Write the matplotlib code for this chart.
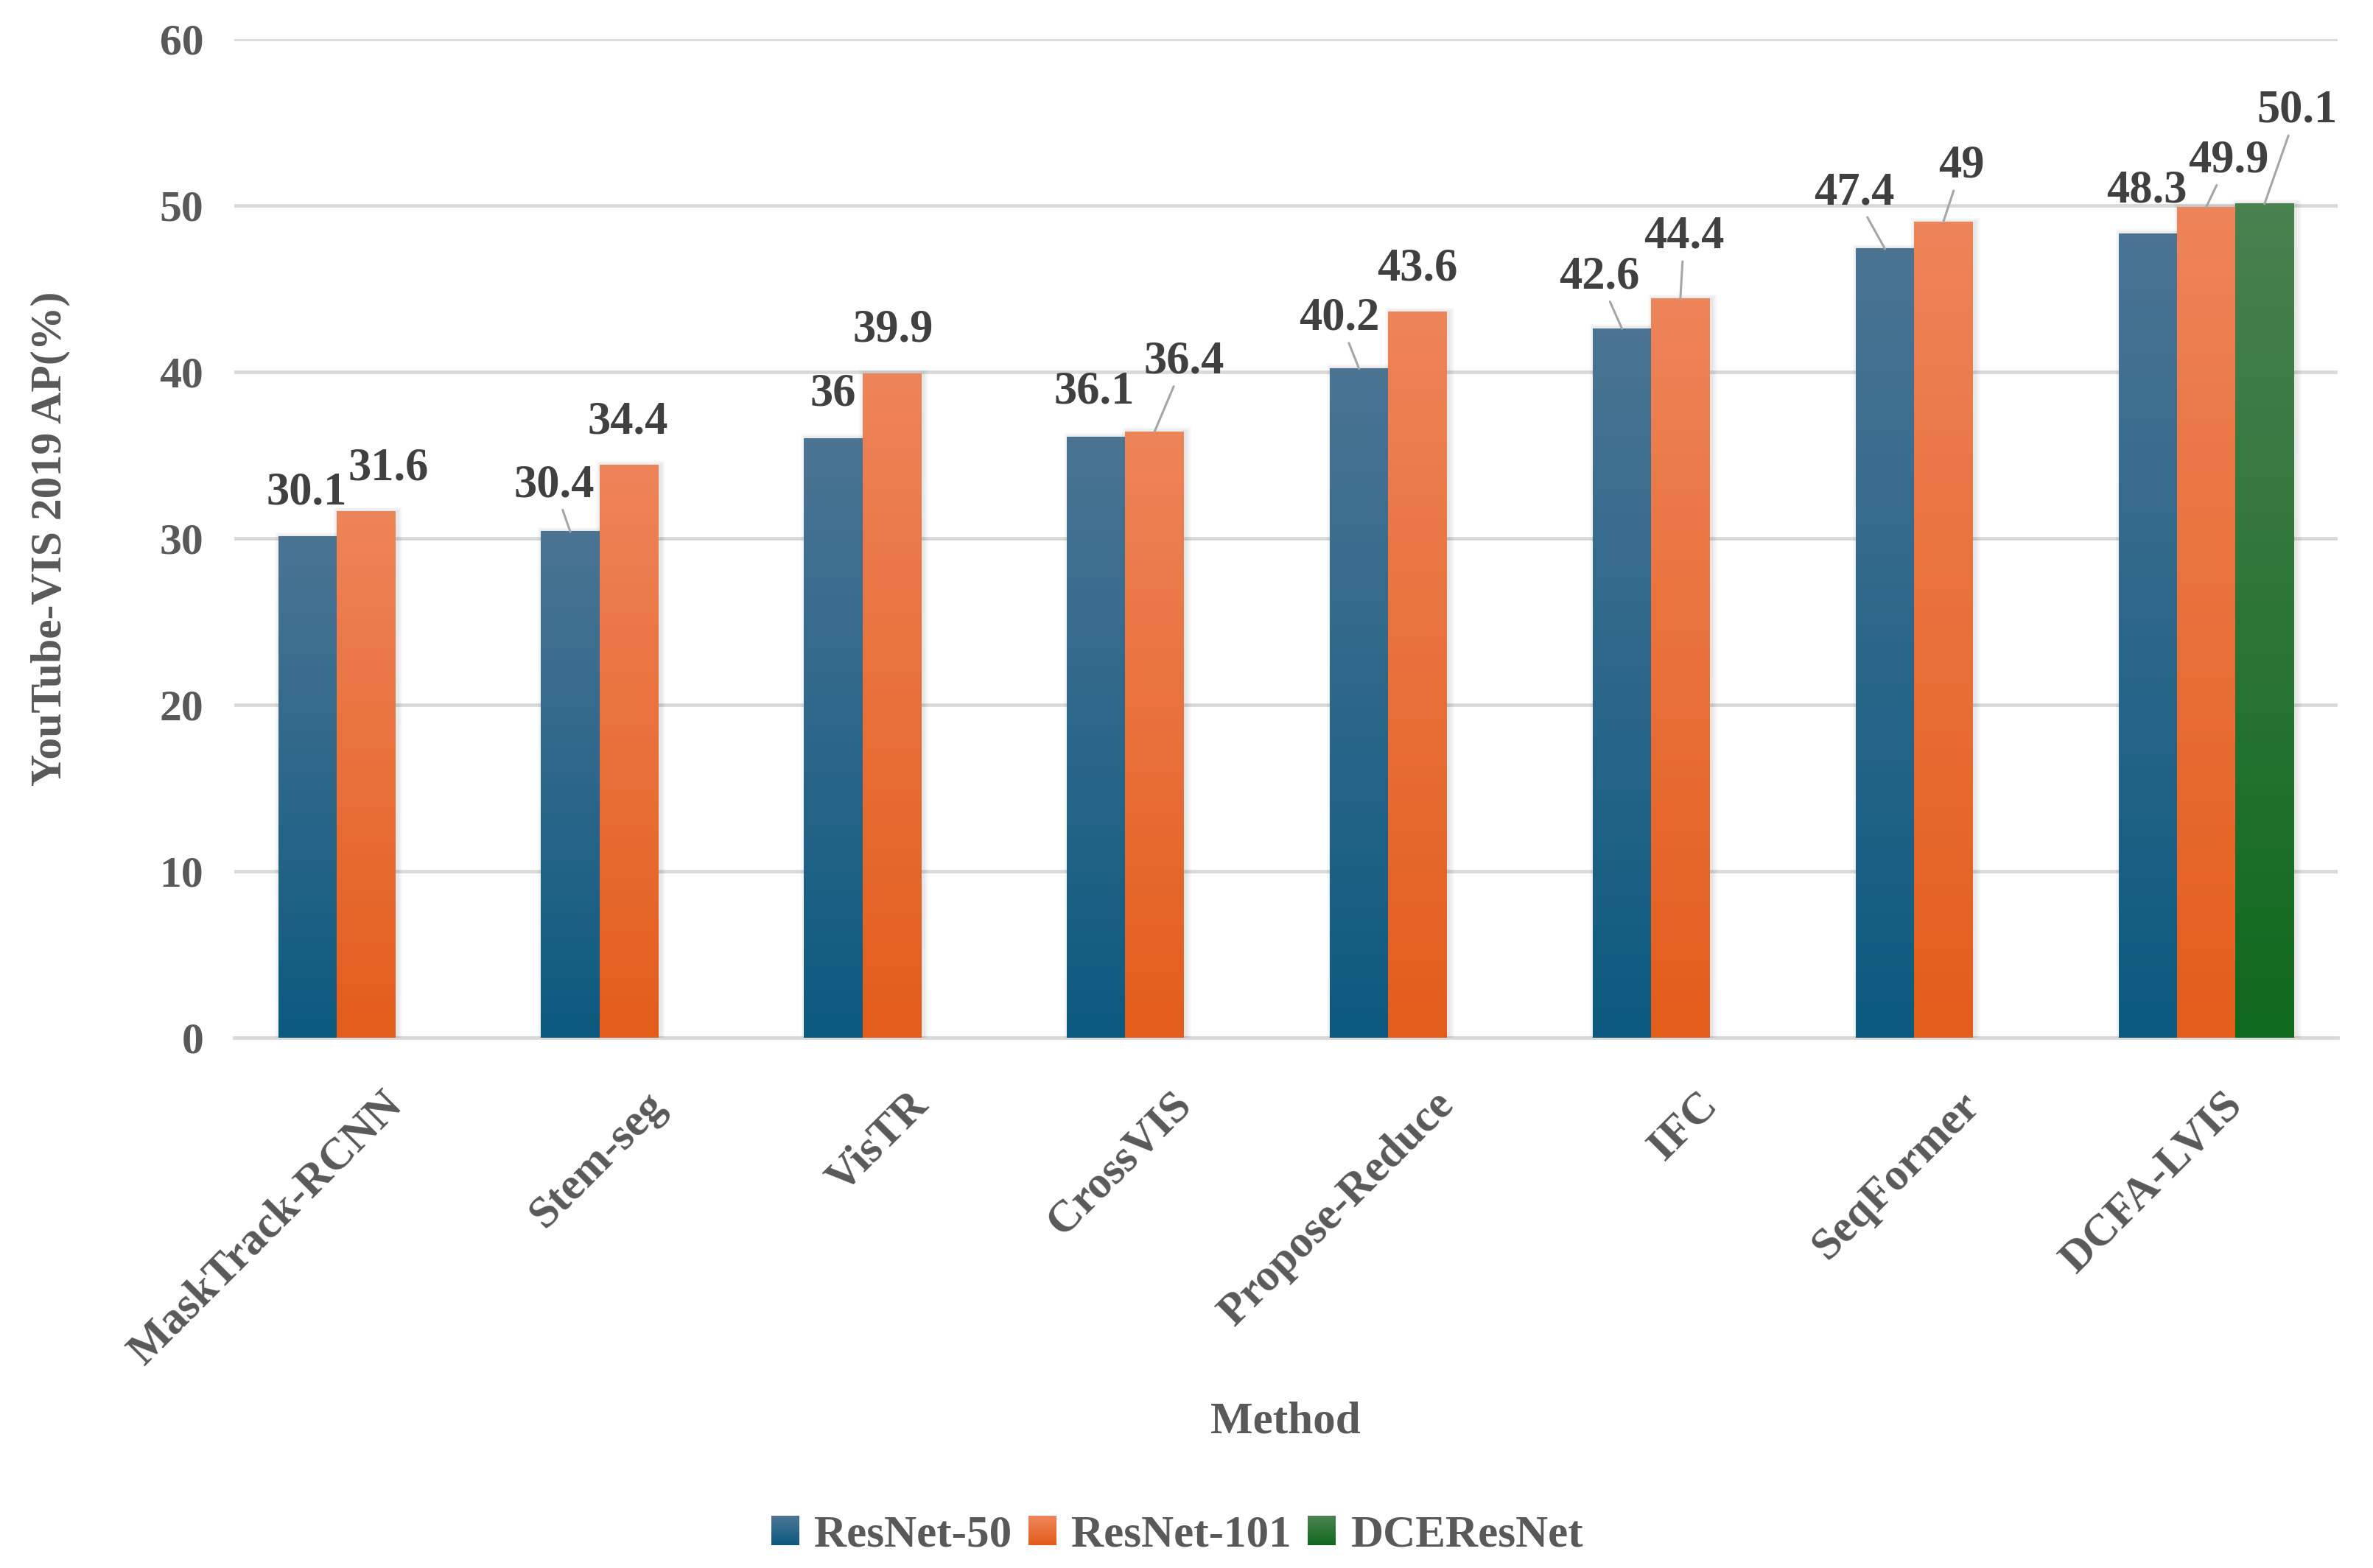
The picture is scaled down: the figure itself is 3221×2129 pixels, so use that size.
import numpy as np
import matplotlib
matplotlib.use('Agg')
import matplotlib.pyplot as plt
from matplotlib.colors import LinearSegmentedColormap
from matplotlib.patches import Rectangle, Patch
from matplotlib.legend_handler import HandlerBase

# ---------------- data ----------------
methods = ["MaskTrack-RCNN", "Stem-seg", "VisTR", "CrossVIS",
           "Propose-Reduce", "IFC", "SeqFormer", "DCFA-LVIS"]
resnet50 = [30.1, 30.4, 36, 36.1, 40.2, 42.6, 47.4, 48.3]
resnet101 = [31.6, 34.4, 39.9, 36.4, 43.6, 44.4, 49, 49.9]
dceresnet = [None, None, None, None, None, None, None, 50.1]
series_names = ["ResNet-50", "ResNet-101", "DCEResNet"]
yticks = [0, 10, 20, 30, 40, 50, 60]
y_label = "YouTube-VIS 2019 AP(%)"
x_label = "Method"

# ---------------- style ----------------
W, H, DPI = 3221, 2129, 100
FONT = "Liberation Serif"
grad_colors = [("#0c5a7f", "#4b7493"),   # bottom, top
               ("#e35d1b", "#ee8459"),
               ("#0f691d", "#4a8150")]
# label offsets (pixels: dx right, dy up) of the label centre from the bar top
label_offsets = [
    [(-1, 65), (-22, 69), (0, 66), (-3, 67), (-27, 74), (-31, 76), (-42, 82), (-1, 64)],
    [(31, 65), (-1, 64), (2, 65), (40, 101), (0, 64), (5, 90), (25, 82), (30, 69)],
    [None, None, None, None, None, None, None, (44, 132)],
]
leaders = {(0, 1), (0, 4), (0, 5), (0, 6), (1, 3), (1, 5), (1, 6), (1, 7), (2, 7)}
FS = 44
FS_LAB = 45
FS_PX = FS_LAB * DPI / 72.0
TXT_DARK = "#404040"
TXT_GRAY = "#595959"
GRID = "#d9d9d9"

fig = plt.figure(figsize=(W / DPI, H / DPI), dpi=DPI)
ax_px = (318, 53, 3173, 1409)
ax = fig.add_axes([ax_px[0] / W, 1 - ax_px[3] / H, (ax_px[2] - ax_px[0]) / W,
                   (ax_px[3] - ax_px[1]) / H])

series = [resnet50, resnet101, dceresnet]
bw = 0.222
x = np.arange(len(methods))
grad = np.linspace(0, 1, 256).reshape(-1, 1)
ymax = 60
px_per_x = (ax_px[2] - ax_px[0]) / len(methods)
px_per_y = (ax_px[3] - ax_px[1]) / ymax

for s, vals in enumerate(series):
    cmap = LinearSegmentedColormap.from_list(f"g{s}", list(grad_colors[s]))
    for i, v in enumerate(vals):
        if v is None:
            continue
        xc = x[i] + (s - 1) * bw
        # soft shadow
        for k in (3, 6, 9, 12):
            ex = k / px_per_x
            ey = k / px_per_y
            ax.add_patch(Rectangle((xc - bw / 2 - ex * 0.6 + 3 / px_per_x, 0),
                                   bw + ex * 1.2, v + ey * 0.5,
                                   facecolor="black", edgecolor="none",
                                   alpha=0.022, zorder=1.8))
        ax.bar(xc, v, bw, color="none", edgecolor="none", zorder=2)
        ax.imshow(grad, extent=(xc - bw / 2, xc + bw / 2, 0, v), origin="lower",
                  cmap=cmap, aspect="auto", zorder=2, interpolation="bilinear")
        dx, dy = label_offsets[s][i]
        kw = dict(xy=(xc, v), xycoords="data",
                  xytext=(dx, dy - 0.34 * FS_PX), textcoords="offset pixels",
                  ha="center", va="baseline", fontsize=FS_LAB, fontweight="bold",
                  color=TXT_DARK, family=FONT, zorder=6, annotation_clip=False)
        if (s, i) in leaders:
            kw["arrowprops"] = dict(arrowstyle="-", color="#a6a6a6", lw=2.2,
                                    shrinkA=1, shrinkB=0)
        lab = v if not float(v).is_integer() else int(v)
        ax.annotate(str(lab), **kw)

ax.set_xlim(-0.5, len(methods) - 0.5)
ax.set_ylim(0, ymax)
ax.set_yticks(yticks)
ax.set_yticklabels([str(t) for t in yticks], fontsize=43, fontweight="bold",
                   color=TXT_GRAY, family=FONT)
ax.tick_params(axis="y", length=0, pad=30)
ax.set_xticks(x)
ax.set_xticklabels([])
ax.tick_params(axis="x", length=0)
ax.yaxis.grid(True, color=GRID, lw=3.4)
ax.set_axisbelow(True)
for sp in ["top", "right", "left"]:
    ax.spines[sp].set_visible(False)
ax.spines["bottom"].set_color(GRID)
ax.spines["bottom"].set_linewidth(3.4)
ax.spines["bottom"].set_zorder(1)

for i, m in enumerate(methods):
    ax.annotate(m, xy=(x[i], 0), xycoords=("data", "axes fraction"),
                xytext=(41, -83), textcoords="offset pixels", rotation=45,
                rotation_mode="anchor", ha="right", va="center", fontsize=FS,
                fontweight="bold", color=TXT_GRAY, family=FONT, annotation_clip=False)

fig.text(68 / W, 1 - 731 / H, y_label, rotation=90, ha="center", va="center",
         fontsize=43, fontweight="bold", color=TXT_GRAY, family=FONT)
fig.text(1745 / W, 1 - 1931 / H, x_label, ha="center", va="center",
         fontsize=FS, fontweight="bold", color=TXT_GRAY, family=FONT)


class GradHandler(HandlerBase):
    def __init__(self, c0, c1):
        super().__init__()
        self.cmap = LinearSegmentedColormap.from_list("h", [c0, c1])

    def create_artists(self, legend, orig_handle, xdescent, ydescent, width,
                       height, fontsize, trans):
        n = 24
        arts = []
        for k in range(n):
            r = Rectangle((-xdescent, -ydescent + height * k / n), width,
                          height / n * 1.15, facecolor=self.cmap(k / (n - 1)),
                          edgecolor="none", transform=trans)
            arts.append(r)
        return arts


handles = [Patch(label=n) for n in series_names]
hmap = {h: GradHandler(*grad_colors[k]) for k, h in enumerate(handles)}
fig.legend(handles=handles, labels=series_names, handler_map=hmap,
           loc="center", bbox_to_anchor=(1598 / W, 1 - 2085 / H), ncol=3,
           frameon=False, handlelength=0.62, handleheight=0.62,
           handletextpad=0.34, columnspacing=0.36,
           prop=dict(family=FONT, weight="bold", size=FS), labelcolor=TXT_GRAY)

fig.savefig("out.png", dpi=DPI, facecolor="white")
